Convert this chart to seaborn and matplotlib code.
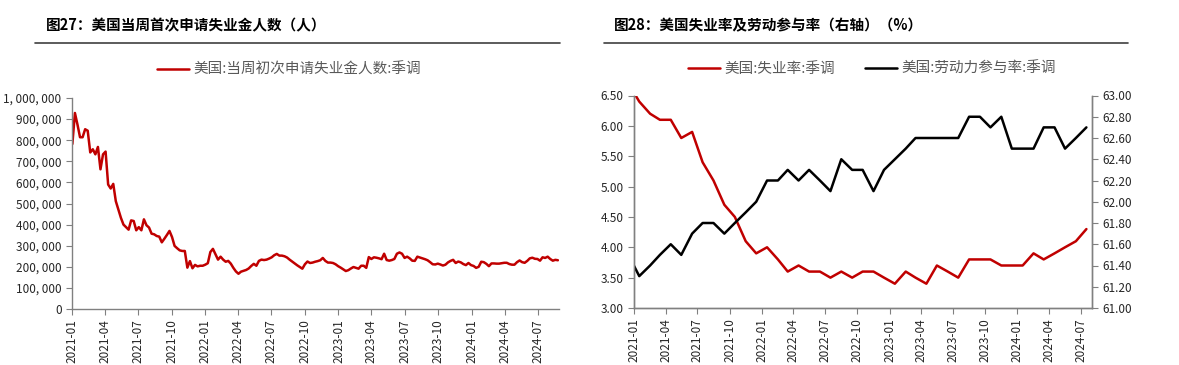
import matplotlib
matplotlib.use("Agg")
import matplotlib.pyplot as plt
import matplotlib.ticker as mticker
from matplotlib.lines import Line2D
import seaborn as sns
import pandas as pd

sns.set_style("ticks")
plt.rcParams['font.family'] = ['Noto Sans CJK SC', 'DejaVu Sans']
plt.rcParams['axes.unicode_minus'] = False

# 图27 数据：当周初次申请失业金人数（千人），每周，2021-01-02 起
claims_k = [
    782, 929, 874, 814, 814, 852, 845, 742, 757, 733, 768, 662, 733, 746, 590, 571,
    593, 511, 472, 432, 400, 388, 376, 420, 417, 373, 388, 373, 425, 397, 386, 357,
    354, 346, 343, 316, 333, 351, 370, 341, 299, 288, 278, 275, 275, 196, 227, 193,
    209, 202, 205, 205, 210, 217, 270, 285, 260, 234, 248, 234, 224, 228, 215, 195,
    178, 167, 177, 181, 185, 192, 204, 214, 205, 228, 234, 232, 234, 239, 245, 255,
    261, 253, 253, 250, 244, 234, 225, 216, 207, 199, 191, 212, 225, 218, 220, 224,
    227, 231, 242, 228, 220, 220, 218, 212, 203, 196, 188, 180, 184, 192, 199, 195,
    191, 205, 205, 195, 246, 237, 245, 243, 240, 236, 262, 232, 229, 232, 237, 262,
    268, 262, 242, 248, 240, 229, 228, 248, 244, 240, 236, 231, 222, 212, 211, 215,
    211, 206, 210, 221, 228, 233, 218, 225, 221, 213, 208, 218, 208, 204, 195, 200,
    224, 222, 214, 203, 216, 216, 215, 215, 217, 219, 219, 213, 210, 210, 222, 230,
    222, 219, 228, 240, 243, 238, 237, 229, 245, 242, 248, 237, 229, 233, 231,
]
claims_dates = pd.date_range('2021-01-02', periods=len(claims_k), freq='7D')
claims = [v * 1000 for v in claims_k]

# 图28 数据：月度，2020-12 至 2024-07
months = pd.date_range('2020-12-01', '2024-07-01', freq='MS')
unemp = [
    6.7, 6.4, 6.2, 6.1, 6.1, 5.8, 5.9, 5.4, 5.1, 4.7, 4.5, 4.1, 3.9,
    4.0, 3.8, 3.6, 3.7, 3.6, 3.6, 3.5, 3.6, 3.5, 3.6, 3.6, 3.5,
    3.4, 3.6, 3.5, 3.4, 3.7, 3.6, 3.5, 3.8, 3.8, 3.8, 3.7, 3.7,
    3.7, 3.9, 3.8, 3.9, 4.0, 4.1, 4.3,
]
lfpr = [
    61.5, 61.3, 61.4, 61.5, 61.6, 61.5, 61.7, 61.8, 61.8, 61.7, 61.8, 61.9, 62.0,
    62.2, 62.2, 62.3, 62.2, 62.3, 62.2, 62.1, 62.4, 62.3, 62.3, 62.1, 62.3,
    62.4, 62.5, 62.6, 62.6, 62.6, 62.6, 62.6, 62.8, 62.8, 62.7, 62.8, 62.5,
    62.5, 62.5, 62.7, 62.7, 62.5, 62.6, 62.7,
]
# Excel 日期轴：数据点位于月份格子中间
month_pos = months + pd.Timedelta(days=15)

quarter_ticks = pd.date_range('2021-01-01', '2024-07-01', freq='QS')
quarter_labels = [d.strftime('%Y-%m') for d in quarter_ticks]

RED = '#C00000'
GRAY = '#808080'
TXT = '#262626'

W, H = 1179, 365
fig = plt.figure(figsize=(W / 100, H / 100), dpi=100)


def style_axis(ax):
    for s in ax.spines.values():
        s.set_color(GRAY)
        s.set_linewidth(1.0)
    ax.tick_params(direction='out', length=4, width=0.8, color=GRAY,
                   labelsize=8.5, labelcolor=TXT)


# ---------- 左图 ----------
ax1 = fig.add_axes([72 / W, 1 - 309 / H, (559 - 72) / W, (309 - 98) / H])
sns.lineplot(x=claims_dates, y=claims, ax=ax1, color=RED, linewidth=1.8,
             label='美国:当周初次申请失业金人数:季调')
ax1.set_xlim(pd.Timestamp('2021-01-01'), pd.Timestamp('2024-08-27'))
ax1.set_ylim(0, 1000000)
ax1.yaxis.set_major_locator(mticker.MultipleLocator(100000))
ax1.yaxis.set_major_formatter(mticker.FuncFormatter(lambda v, p: f"{v:,.0f}".replace(",", ", ")))
ax1.set_xticks(quarter_ticks)
ax1.set_xticklabels(quarter_labels, rotation=90)
ax1.set_xlabel('')
ax1.set_ylabel('')
ax1.spines['top'].set_visible(False)
ax1.spines['right'].set_visible(False)
style_axis(ax1)
h1, l1 = ax1.get_legend_handles_labels()
ax1.get_legend().remove()

# ---------- 右图 ----------
ax2 = fig.add_axes([634 / W, 1 - 308 / H, (1092 - 634) / W, (308 - 95.5) / H])
ax3 = ax2.twinx()
sns.lineplot(x=month_pos, y=unemp, ax=ax2, color=RED, linewidth=1.8,
             label='美国:失业率:季调')
sns.lineplot(x=month_pos, y=lfpr, ax=ax3, color='black', linewidth=1.8,
             label='美国:劳动力参与率:季调')
ax2.set_xlim(pd.Timestamp('2021-01-01'), pd.Timestamp('2024-08-01'))
ax2.set_ylim(3.0, 6.5)
ax2.yaxis.set_major_locator(mticker.MultipleLocator(0.5))
ax2.yaxis.set_major_formatter(mticker.FormatStrFormatter('%.2f'))
ax3.set_ylim(61.0, 63.0)
ax3.yaxis.set_major_locator(mticker.MultipleLocator(0.2))
ax3.yaxis.set_major_formatter(mticker.FormatStrFormatter('%.2f'))
ax2.set_xticks(quarter_ticks)
ax2.set_xticklabels(quarter_labels, rotation=90)
for a in (ax2, ax3):
    a.set_xlabel('')
    a.set_ylabel('')
    a.spines['top'].set_visible(False)
    style_axis(a)
h2, l2 = ax2.get_legend_handles_labels()
h3, l3 = ax3.get_legend_handles_labels()
ax2.get_legend().remove()
ax3.get_legend().remove()

# ---------- 标题、分隔线、图例 ----------
fig.text(46 / W, 1 - 25 / H, '图27：美国当周首次申请失业金人数（人）',
         fontsize=10.5, fontweight='bold', color='black', va='center', ha='left')
fig.text(614 / W, 1 - 25 / H, '图28：美国失业率及劳动参与率（右轴）（%）',
         fontsize=10.5, fontweight='bold', color='black', va='center', ha='left')
fig.add_artist(Line2D([35 / W, 560 / W], [1 - 43 / H, 1 - 43 / H], color='#404040', lw=1.2))
fig.add_artist(Line2D([604 / W, 1128 / W], [1 - 43 / H, 1 - 43 / H], color='#404040', lw=1.2))

leg_kw = dict(frameon=False, fontsize=10.5, handlelength=2.2, handletextpad=0.3,
              labelcolor='#595959', loc='center')
fig.legend(h1, l1, bbox_to_anchor=(289 / W, 1 - 70 / H), **leg_kw)
fig.legend(h2 + h3, l2 + l3, bbox_to_anchor=(872 / W, 1 - 69 / H), ncol=2,
           columnspacing=2.0, **leg_kw)

fig.savefig('out.png', dpi=100)
